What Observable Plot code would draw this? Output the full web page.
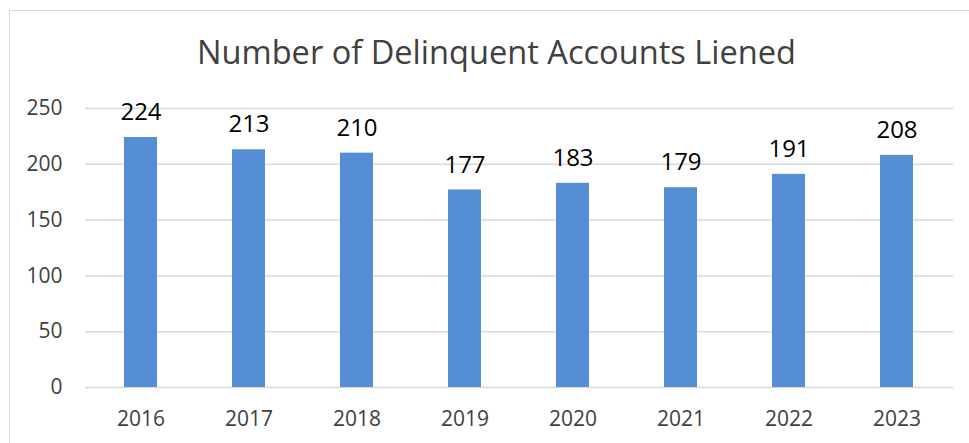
<!DOCTYPE html>
<html>
<head>
<meta charset="utf-8">
<script src="https://cdn.jsdelivr.net/npm/d3@7"></script>
<script src="https://cdn.jsdelivr.net/npm/@observablehq/plot@0.6"></script>
<style>
  html, body { margin: 0; padding: 0; background: #fff; width: 969px; height: 443px; overflow: hidden; }
  #frame { position: absolute; left: 9px; top: 10px; width: 980px; height: 460px; border: 1px solid #d9d9d9; box-sizing: border-box; }
  #title { position: absolute; left: 0; width: 993px; top: 30px; text-align: center; font-family: "Open Sans", sans-serif; font-size: 32.6px; color: #404040; line-height: 44px; }
  #chart { position: absolute; left: 0; top: 90px; }
</style>
</head>
<body>
<div id="frame"></div>
<div id="title">Number of Delinquent Accounts Liened</div>
<div id="chart"></div>
<script>
const years = ["2016", "2017", "2018", "2019", "2020", "2021", "2022", "2023"];
const counts = [224, 213, 210, 177, 183, 179, 191, 208];
const yTicks = [0, 50, 100, 150, 200, 250];

const data = years.map((y, i) => ({year: y, count: counts[i]}));

const chart = Plot.plot({
  width: 969,
  height: 353,
  marginLeft: 85,
  marginRight: 16,
  marginTop: 18,
  marginBottom: 56,
  style: {fontFamily: "Open Sans, sans-serif", background: "transparent", color: "#404040"},
  x: {domain: years, paddingInner: 0.69, paddingOuter: 0.345, label: null},
  y: {domain: [0, 250], label: null},
  marks: [
    Plot.gridY(yTicks, {stroke: "#d9d9d9", strokeWidth: 1.5, strokeOpacity: 1}),
    Plot.barY(data, {x: "year", y: "count", fill: "#558ed5"}),
    Plot.text(data, {x: "year", y: "count", text: d => String(d.count), dy: -25, fontSize: 24, fill: "#000"}),
    Plot.axisX({tickSize: 0, tickPadding: 24, fontSize: 21, label: null, tickFormat: d => d}),
    Plot.axisY(yTicks, {tickSize: 0, tickPadding: 23, fontSize: 21, label: null})
  ]
});
document.getElementById("chart").appendChild(chart);
</script>
</body>
</html>
